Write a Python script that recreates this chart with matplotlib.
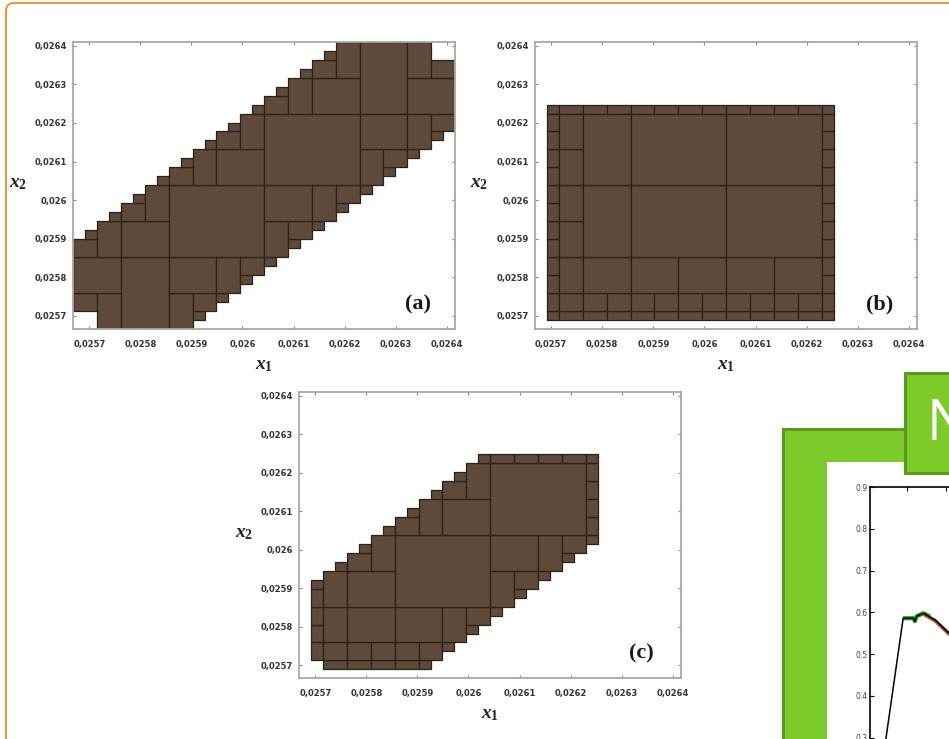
import matplotlib
matplotlib.use('Agg')
import matplotlib.pyplot as plt
from matplotlib.patches import Rectangle, FancyBboxPatch
from matplotlib.collections import PatchCollection
from matplotlib.transforms import IdentityTransform

W, H = 949, 739
DPI = 100

plt.rcParams['mathtext.fontset'] = 'custom'
plt.rcParams['mathtext.it'] = 'Liberation Serif:italic:bold'
plt.rcParams['mathtext.rm'] = 'Liberation Serif:bold'
plt.rcParams['mathtext.bf'] = 'Liberation Serif:bold'

# ---------------- data ----------------
x_lim = (0.0256687, 0.0264163)
y_lim = (0.0256663, 0.0264104)
tick_values = [0.0257, 0.0258, 0.0259, 0.0260, 0.0261, 0.0262, 0.0263, 0.0264]
tick_labels = ['0,0257', '0,0258', '0,0259', '0,026', '0,0261', '0,0262', '0,0263', '0,0264']
grid_n = 32

# set (a): per grid column, lower and upper grid row of the feasible band
a_lo = [2, 2, 0, 0, 0, 0, 0, 0, 0, 0, 1, 2, 3, 4, 5, 6, 7, 8, 9, 10, 11, 12, 13, 14,
        15, 16, 17, 18, 19, 20, 21, 22]
a_hi = [10, 11, 12, 13, 14, 15, 16, 17, 18, 19, 20, 21, 22, 23, 24, 25, 26, 27, 28, 29,
        30, 31, 32, 32, 32, 32, 32, 32, 32, 32, 30, 30]
# set (b): rectangle in grid units
b_cols = (1, 25)
b_rows = (1, 25)
# set (c): per grid column
c_lo = [0, 2, 1, 1, 1, 1, 1, 1, 1, 1, 1, 2, 3, 4, 5, 6, 7, 8, 9, 10, 11, 12, 13, 14, 15,
        0, 0, 0, 0, 0, 0, 0]
c_hi = [0, 11, 12, 13, 14, 15, 16, 17, 18, 19, 20, 21, 22, 23, 24, 25, 25, 25, 25, 25, 25,
        25, 25, 25, 25, 0, 0, 0, 0, 0, 0, 0]

panel_names = ['(a)', '(b)', '(c)']

# inset curve (partially visible)
inset_x = [0.39, 0.91, 1.17, 1.21, 1.26, 1.43, 1.73, 2.08, 2.40]
inset_y = [0.246, 0.586, 0.586, 0.579, 0.591, 0.598, 0.582, 0.551, 0.530]
inset_green_x = [0.91, 1.17, 1.21, 1.26, 1.43, 1.60]
inset_green_y = [0.586, 0.586, 0.579, 0.591, 0.598, 0.590]
inset_red_x = [1.43, 1.73, 2.08, 2.40]
inset_red_y = [0.596, 0.580, 0.549, 0.528]
inset_yticks = [0.3, 0.4, 0.5, 0.6, 0.7, 0.8, 0.9]
inset_header = 'N'

b_lo = [b_rows[0] if b_cols[0] <= i < b_cols[1] else 0 for i in range(grid_n)]
b_hi = [b_rows[1] if b_cols[0] <= i < b_cols[1] else 0 for i in range(grid_n)]


def pave(lo, hi, x0, x1, y0, y1, out):
    filled = []
    for i in range(x0, x1):
        s0, s1 = max(y0, lo[i]), min(y1, hi[i])
        if s1 > s0:
            filled.append((i, s0, s1))
    if not filled:
        return
    if len(filled) == x1 - x0 and all(s[1] == y0 and s[2] == y1 for s in filled):
        out.append((x0, x1, y0, y1))
        return
    w, h = x1 - x0, y1 - y0
    if max(w, h) <= 2:
        i0, i1 = filled[0][0], filled[-1][0]
        if len(filled) == i1 - i0 + 1 and all((s[1], s[2]) == (filled[0][1], filled[0][2]) for s in filled):
            out.append((i0, i1 + 1, filled[0][1], filled[0][2]))
            return
    if w >= h:
        m = (x0 + x1) // 2
        pave(lo, hi, x0, m, y0, y1, out)
        pave(lo, hi, m, x1, y0, y1, out)
    else:
        m = (y0 + y1) // 2
        pave(lo, hi, x0, x1, y0, m, out)
        pave(lo, hi, x0, x1, m, y1, out)


def rect_px(left, top, right, bottom):
    return [left / W, 1 - bottom / H, (right - left) / W, (bottom - top) / H]


fig = plt.figure(figsize=(W / DPI, H / DPI), dpi=DPI)
fig.patch.set_facecolor('white')

# orange slide frame
fig.add_artist(FancyBboxPatch((6, -200), 1200, H - 3 + 200, boxstyle='round,pad=0,rounding_size=8',
                              transform=IdentityTransform(), facecolor='none',
                              edgecolor='#EE8A2A', linewidth=1.3, zorder=0))

panels = [
    (rect_px(73.3, 41.7, 455, 329), a_lo, a_hi, (0.902, 0.087)),
    (rect_px(535, 41.7, 917.3, 329), b_lo, b_hi, (0.902, 0.087)),
    (rect_px(299.3, 391.7, 681, 678.3), c_lo, c_hi, (0.895, 0.085)),
]

sx = (x_lim[1] - x_lim[0]) / grid_n
sy = (y_lim[1] - y_lim[0]) / grid_n

for (rect, lo, hi, lab_pos), name in zip(panels, panel_names):
    ax = fig.add_axes(rect)
    boxes = []
    pave(lo, hi, 0, grid_n, 0, grid_n, boxes)
    patches = [Rectangle((x_lim[0] + b[0] * sx, y_lim[0] + b[2] * sy),
                         (b[1] - b[0]) * sx, (b[3] - b[2]) * sy) for b in boxes]
    pc = PatchCollection(patches, facecolor='#5D4A3A', edgecolor='#2C2118',
                         linewidth=0.9, zorder=2)
    ax.add_collection(pc)
    ax.set_xlim(*x_lim)
    ax.set_ylim(*y_lim)
    ax.set_xticks(tick_values)
    ax.set_xticklabels(tick_labels)
    ax.set_yticks(tick_values)
    ax.set_yticklabels(tick_labels)
    for sp in ax.spines.values():
        sp.set_color('#A8A8A8')
        sp.set_linewidth(1.3)
        sp.set_zorder(3)
    ax.tick_params(axis='both', direction='in', length=2.5, width=0.8, color='#8A8A8A',
                   top=True, right=True, labelsize=6, labelcolor='#333333')
    ax.tick_params(axis='x', pad=8)
    ax.tick_params(axis='y', pad=4.5)
    for lbl in ax.get_xticklabels() + ax.get_yticklabels():
        lbl.set_fontweight('bold')
    ax.text(0.5, -0.122, r'$x_1$', transform=ax.transAxes, ha='center', va='center',
            fontsize=14, color='#222222')
    ax.text(-0.145, 0.51, r'$x_2$', transform=ax.transAxes, ha='center', va='center',
            fontsize=14, color='#222222')
    ax.text(lab_pos[0], lab_pos[1], name, transform=ax.transAxes, ha='center', va='center',
            fontsize=16, fontweight='bold', family='Liberation Serif', color='#1A1A1A', zorder=4)

# green inset frame (cut off at figure edge)
def px_rect(left, top, right, bottom, **kw):
    return Rectangle((left, H - bottom), right - left, bottom - top, transform=IdentityTransform(), **kw)

fig.add_artist(px_rect(783, 429, 1300, 1100, facecolor='#7DCB29', edgecolor='#5C9A1F',
                       linewidth=2.2, zorder=1))
fig.add_artist(px_rect(827, 462, 1300, 1100, facecolor='white', edgecolor='none', zorder=1.5))
fig.add_artist(px_rect(905, 373, 1300, 473, facecolor='#7DCB29', edgecolor='#5C9A1F',
                       linewidth=2.2, zorder=2))
fig.text(927 / W, 1 - 425 / H, inset_header, color='white', fontsize=40, family='Open Sans',
         ha='left', va='center', zorder=3)

iax = fig.add_axes(rect_px(870, 487.3, 1100, 800))
iax.set_zorder(5)
iax.patch.set_alpha(0)
iax.plot(inset_green_x, inset_green_y, color='#1E9A1E', linewidth=3.0, solid_capstyle='butt')
iax.plot(inset_red_x, inset_red_y, color='#A0522D', linewidth=2.6, solid_capstyle='butt')
iax.plot(inset_x, inset_y, color='black', linewidth=1.1)
iax.set_xlim(0.06, 0.06 + 230 / 39)
iax.set_ylim(0.9 - (800 - 487.3) / 417, 0.9)
iax.set_yticks(inset_yticks)
iax.set_yticklabels([f'{v:.1f}' for v in inset_yticks])
iax.set_xticks([1, 2, 3, 4, 5])
iax.set_xticklabels([])
for sp in iax.spines.values():
    sp.set_color('black')
    sp.set_linewidth(1.2)
iax.tick_params(axis='both', direction='in', length=3, width=0.8, top=True, right=False,
                labelsize=5.5, labelcolor='#444444', pad=2)

fig.savefig('out.png', dpi=DPI)
